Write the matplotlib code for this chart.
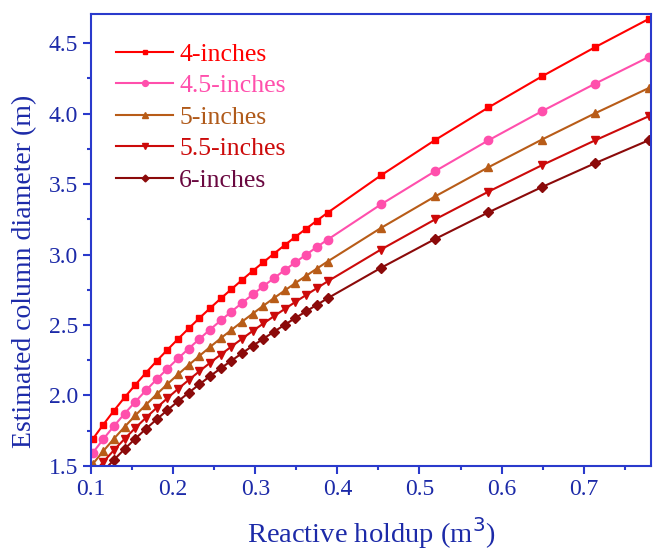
import numpy as np
import matplotlib.pyplot as plt
from matplotlib.ticker import MultipleLocator

# === Data ===
holdup = [0.102, 0.115, 0.128, 0.141, 0.154, 0.167, 0.180, 0.193, 0.206, 0.219,
          0.232, 0.245, 0.258, 0.271, 0.284, 0.297, 0.310, 0.323, 0.336, 0.349,
          0.362, 0.375, 0.388, 0.453, 0.519, 0.584, 0.649, 0.714, 0.779]

d_4in = [1.690, 1.794, 1.893, 1.987, 2.076, 2.162, 2.245, 2.324, 2.401, 2.476,
         2.549, 2.619, 2.688, 2.754, 2.820, 2.884, 2.946, 3.007, 3.067, 3.126,
         3.183, 3.240, 3.296, 3.561, 3.812, 4.043, 4.263, 4.471, 4.670]
d_45in = [1.592, 1.691, 1.784, 1.872, 1.956, 2.037, 2.115, 2.190, 2.263, 2.333,
          2.401, 2.468, 2.532, 2.595, 2.657, 2.717, 2.776, 2.833, 2.890, 2.945,
          2.999, 3.053, 3.105, 3.355, 3.591, 3.810, 4.016, 4.212, 4.400]
d_5in = [1.513, 1.606, 1.694, 1.778, 1.859, 1.935, 2.009, 2.081, 2.150, 2.216,
         2.281, 2.344, 2.406, 2.465, 2.524, 2.581, 2.637, 2.692, 2.745, 2.798,
         2.849, 2.900, 2.950, 3.188, 3.412, 3.619, 3.815, 4.002, 4.180]
d_55in = [1.440, 1.529, 1.613, 1.693, 1.770, 1.843, 1.913, 1.981, 2.047, 2.110,
          2.172, 2.232, 2.290, 2.347, 2.403, 2.458, 2.511, 2.563, 2.614, 2.664,
          2.713, 2.761, 2.809, 3.035, 3.249, 3.446, 3.633, 3.810, 3.980]
d_6in = [1.379, 1.464, 1.544, 1.621, 1.694, 1.764, 1.831, 1.896, 1.959, 2.020,
         2.079, 2.137, 2.193, 2.247, 2.300, 2.353, 2.403, 2.453, 2.502, 2.550,
         2.597, 2.643, 2.689, 2.905, 3.110, 3.299, 3.478, 3.648, 3.810]

labels = ['4-inches', '4.5-inches', '5-inches', '5.5-inches', '6-inches']
series = [d_4in, d_45in, d_5in, d_55in, d_6in]
colors = ['#ff0000', '#ff4fac', '#b85c18', '#cc0a0a', '#8b0a0a']
text_colors = ['#ff0000', '#ff4fac', '#b05a1a', '#cc0a0a', '#6a0840']
markers = ['s', 'o', '^', 'v', 'D']
msizes = [5, 6, 6, 6, 5]

axis_blue = '#2a3acc'
label_blue = '#1c2aa8'

plt.rcParams['font.family'] = ['Liberation Serif', 'DejaVu Serif']

fig = plt.figure(figsize=(6.53, 5.55), dpi=100)
ax = fig.add_axes([0.1394, 0.1604, 0.8576, 0.8144])

for y, lab, c, m, ms in zip(series, labels, colors, markers, msizes):
    ax.plot(holdup, y, color=c, marker=m, markersize=ms, linewidth=1.5, label=lab)

ax.set_xlim(0.1, 0.782)
ax.set_ylim(1.5, 4.706)
ax.xaxis.set_major_locator(MultipleLocator(0.1))
ax.xaxis.set_minor_locator(MultipleLocator(0.05))
ax.yaxis.set_major_locator(MultipleLocator(0.5))
ax.yaxis.set_minor_locator(MultipleLocator(0.25))
ax.xaxis.set_major_formatter(plt.FormatStrFormatter('%.1f'))
ax.yaxis.set_major_formatter(plt.FormatStrFormatter('%.1f'))

for sp in ax.spines.values():
    sp.set_color(axis_blue)
    sp.set_linewidth(1.5)
ax.tick_params(which='both', direction='out', colors=axis_blue, labelcolor=label_blue,
               labelsize=17, width=1.5, top=False, right=False)
ax.tick_params(which='major', length=6)
ax.tick_params(which='minor', length=3)

ax.set_xlabel('Reactive holdup (m$^3$)', fontsize=20.5, color=label_blue, labelpad=11)
ax.set_ylabel('Estimated column diameter (m)', fontsize=20, color=label_blue)
ax.yaxis.set_label_coords(-0.097, 0.43)

leg = ax.legend(loc='upper left', frameon=False, fontsize=18.5, handlelength=2.2,
                handletextpad=0.25, labelspacing=0.33, bbox_to_anchor=(0.004, 0.987),
                markerscale=0.7)
for t, c in zip(leg.get_texts(), text_colors):
    t.set_color(c)

plt.savefig('out.png', dpi=100)
